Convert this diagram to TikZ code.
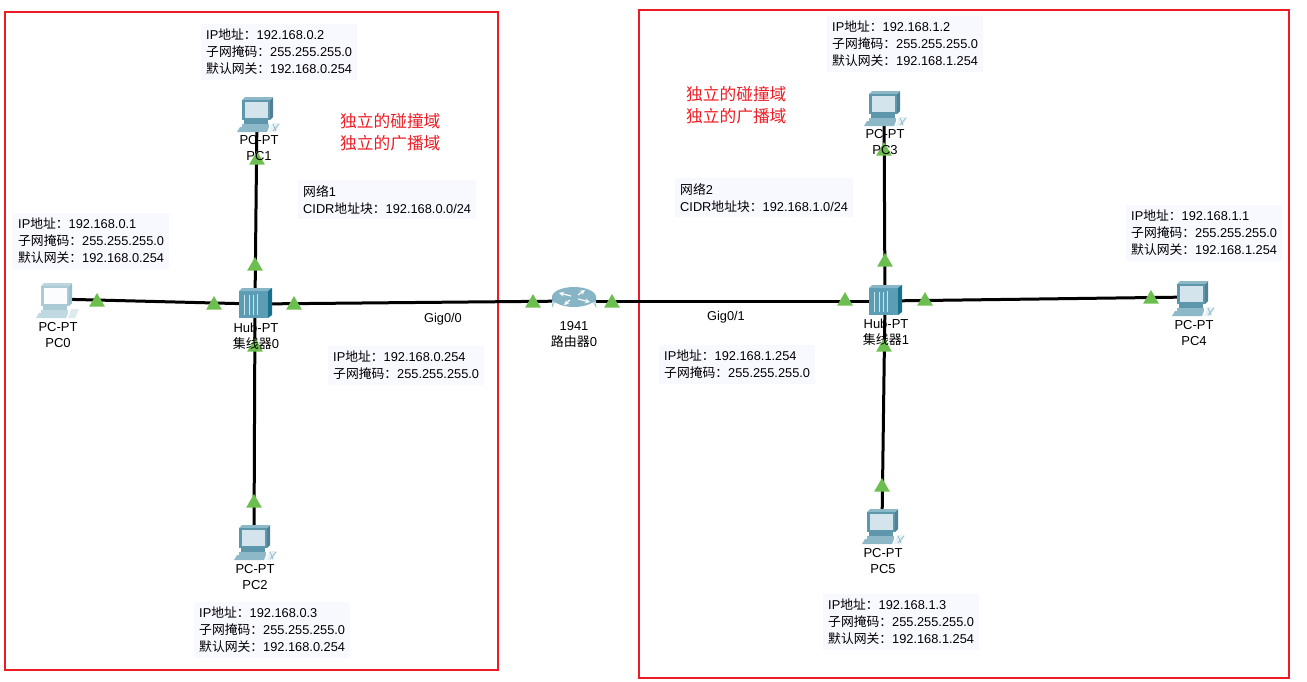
\documentclass[tikz,border=0pt]{standalone}
\usepackage{fontspec}
\usetikzlibrary{shapes.geometric}
\setmainfont{Liberation Sans}
\newfontfamily\cjk{Noto Sans CJK SC}
\newcommand{\zh}[1]{{\cjk #1}}
\definecolor{boxred}{HTML}{ED1C24}
\definecolor{infobg}{HTML}{F8F8FF}
\definecolor{tri}{HTML}{6CBE4F}
\definecolor{pcdark}{HTML}{5E96AB}
\definecolor{pcmid}{HTML}{8DB8C8}
\definecolor{pcscreen}{HTML}{D3E4EC}
\definecolor{hubfront}{HTML}{5B9DB5}
\definecolor{hubside}{HTML}{17708C}
\definecolor{hubtop}{HTML}{86B6C7}
\tikzset{
  x=1pt,y=-1pt,
  link/.style={line width=3pt,black},
  region/.style={draw=boxred,line width=1.5pt},
  info/.style={fill=infobg,align=left,anchor=north west,font=\fontsize{12.8}{17}\selectfont,inner xsep=5pt,inner ysep=5pt,text=black},
  redtxt/.style={align=left,anchor=north west,text=boxred,font=\fontsize{16.7}{22}\selectfont,inner sep=0pt},
  devlabel/.style={align=center,anchor=north,font=\fontsize{13}{16}\selectfont,inner sep=0pt,text=black},
  portlabel/.style={font=\fontsize{12.8}{14}\selectfont,inner sep=0pt,text=black},
  porttri/.style={fill=tri,draw=none,regular polygon,regular polygon sides=3,minimum size=18pt,inner sep=0pt},
  pics/pcicon/.style={code={
    \fill[pcdark!85!black] (13,-16) -- (16,-19) -- (16,1) -- (13,4) -- cycle;
    \fill[pcmid] (-15,-16) -- (13,-16) -- (16,-19) -- (-12,-19) -- cycle;
    \fill[pcdark] (-15,-16) rectangle (13,4);
    \fill[pcscreen] (-12,-14) rectangle (10.5,2);
    \fill[pcdark] (-13,4) rectangle (11,8);
    \fill[pcmid] (-15,8) rectangle (12,11);
    \fill[pcmid] (-17,11) -- (12,11) -- (10,16) -- (-20,16) -- cycle;
    \fill[white!80!pcmid] (15,7) -- (23,7) -- (19,16) -- (12,16) -- cycle;
    \draw[pcmid,line width=.7pt] (16,8) -- (19,15) (22,8) -- (16,15);
  }},
  pics/pclight/.style={code={
    \fill[pcmid!90!white] (13,-16) -- (16,-19) -- (16,1) -- (13,4) -- cycle;
    \fill[pcmid!60!white] (-15,-16) -- (13,-16) -- (16,-19) -- (-12,-19) -- cycle;
    \fill[pcmid!75!white] (-15,-16) rectangle (13,4);
    \fill[white!90!pcscreen] (-12,-14) rectangle (10.5,2);
    \fill[pcmid!75!white] (-13,4) rectangle (11,8);
    \fill[pcmid!55!white] (-15,8) rectangle (12,11);
    \fill[pcmid!55!white] (-17,11) -- (12,11) -- (10,16) -- (-20,16) -- cycle;
    \fill[white!70!pcmid] (15,7) -- (23,7) -- (19,16) -- (12,16) -- cycle;
  }},
  pics/hubicon/.style={code={
    \fill[hubfront] (-16,-13) rectangle (13,14);
    \fill[hubtop] (-16,-13) -- (-13,-16) -- (17,-16) -- (13,-13) -- cycle;
    \fill[hubside] (13,-13) -- (17,-16) -- (17,11) -- (13,14) -- cycle;
    \draw[white!70!hubfront,line width=.8pt] (-11,-9) -- (-11,11) (-6,-9) -- (-6,11) (-2,-9) -- (-2,11) (2,-10) -- (2,11);
  }},
  pics/routericon/.style={code={
    \shade[left color=hubside,right color=hubside,middle color=pcscreen,shading angle=0] (-22,-4) -- (-22,7) arc[start angle=180,end angle=360,x radius=22,y radius=9.5] -- (22,-4) -- cycle;
    \fill[pcmid!90!pcdark] (0,-4) ellipse[x radius=22,y radius=10];
    \begin{scope}[white,line width=1.2pt,->,>=stealth]
      \draw (-3,-5) -- (-15,-8);
      \draw (4,-6) -- (11,-11);
      \draw (-4,-1) -- (-10,4);
      \draw (4,-2) -- (16,1);
    \end{scope}
  }},
}
\begin{document}
\begin{tikzpicture}
\useasboundingbox (0,0) rectangle (1307,681);
% device positions
\coordinate (pc0) at (56,299);
\coordinate (pc1) at (257,113);
\coordinate (pc2) at (254,542);
\coordinate (pc3) at (884,107);
\coordinate (pc4) at (1192,297);
\coordinate (pc5) at (882,525);
\coordinate (hub0) at (255,304);
\coordinate (hub1) at (885,301);
\coordinate (router) at (574,301);
% regions
\draw[region] (5,12) rectangle (498,670);
\draw[region] (639,10) rectangle (1289,678);
% links
\draw[link] (pc0) -- (hub0);
\draw[link] (pc1) -- (hub0);
\draw[link] (pc2) -- (hub0);
\draw[link] (hub0) -- (router);
\draw[link] (router) -- (hub1);
\draw[link] (pc3) -- (hub1);
\draw[link] (pc4) -- (hub1);
\draw[link] (pc5) -- (hub1);
% icons
\pic[yshift=-3pt] at (pc0) {pclight};
\pic[yshift=-3pt] at (pc1) {pcicon};
\pic[yshift=-2pt] at (pc2) {pcicon};
\pic[yshift=-3pt] at (pc3) {pcicon};
\pic[yshift=-3pt] at (pc4) {pcicon};
\pic[yshift=-3pt] at (pc5) {pcicon};
\pic at (hub0) {hubicon};
\pic at (hub1) {hubicon};
\pic at (router) {routericon};
% port triangles
\node[porttri] (t1) at (97,302) {};
\node[porttri] (t2) at (214,305) {};
\node[porttri] (t3) at (294,305) {};
\node[porttri] (t4) at (255,266) {};
\node[porttri] (t5) at (257,160) {};
\node[porttri] (t6) at (255,347) {};
\node[porttri] (t7) at (254,503) {};
\node[porttri] (t8) at (533,303) {};
\node[porttri] (t9) at (612,303) {};
\node[porttri] (t10) at (845,301) {};
\node[porttri] (t11) at (925,301) {};
\node[porttri] (t12) at (885,262) {};
\node[porttri] (t13) at (884,151) {};
\node[porttri] (t14) at (884,347) {};
\node[porttri] (t15) at (882,487) {};
\node[porttri] (t16) at (1151,299) {};
% device labels
\node[devlabel] (l0) at (58,322) {PC-PT\\PC0};
\node[devlabel] (l1) at (259,135.5) {PC-PT\\PC1};
\node[devlabel] (l2) at (255,564) {PC-PT\\PC2};
\node[devlabel] (l3) at (885,129.5) {PC-PT\\PC3};
\node[devlabel] (l4) at (1194,320) {PC-PT\\PC4};
\node[devlabel] (l5) at (883,548) {PC-PT\\PC5};
\node[devlabel] (lh0) at (256,323) {Hub-PT\\\zh{集线器}0};
\node[devlabel] (lh1) at (886,318.5) {Hub-PT\\\zh{集线器}1};
\node[devlabel] (lr) at (574,321) {1941\\\zh{路由器}0};
% port labels
\node[portlabel] (g0) at (443,319.5) {Gig0/0};
\node[portlabel] (g1) at (726,317.5) {Gig0/1};
% info boxes
\node[info] (i1) at (201,24) {IP\zh{地址：}192.168.0.2\\\zh{子网掩码：}255.255.255.0\\\zh{默认网关：}192.168.0.254};
\node[info] (i0) at (13,213) {IP\zh{地址：}192.168.0.1\\\zh{子网掩码：}255.255.255.0\\\zh{默认网关：}192.168.0.254};
\node[info] (i2) at (194,602) {IP\zh{地址：}192.168.0.3\\\zh{子网掩码：}255.255.255.0\\\zh{默认网关：}192.168.0.254};
\node[info] (ir0) at (328,346) {IP\zh{地址：}192.168.0.254\\\zh{子网掩码：}255.255.255.0};
\node[info] (n1) at (298,180) {\zh{网络}1\\CIDR\zh{地址块：}192.168.0.0/24};
\node[info] (i3) at (827,16) {IP\zh{地址：}192.168.1.2\\\zh{子网掩码：}255.255.255.0\\\zh{默认网关：}192.168.1.254};
\node[info] (i4) at (1126,205) {IP\zh{地址：}192.168.1.1\\\zh{子网掩码：}255.255.255.0\\\zh{默认网关：}192.168.1.254};
\node[info] (i5) at (823,594) {IP\zh{地址：}192.168.1.3\\\zh{子网掩码：}255.255.255.0\\\zh{默认网关：}192.168.1.254};
\node[info] (ir1) at (659,345) {IP\zh{地址：}192.168.1.254\\\zh{子网掩码：}255.255.255.0};
\node[info] (n2) at (675,178) {\zh{网络}2\\CIDR\zh{地址块：}192.168.1.0/24};
% red texts
\node[redtxt] (r0) at (340,113) {\zh{独立的碰撞域}\\\zh{独立的广播域}};
\node[redtxt] (r1) at (686,86) {\zh{独立的碰撞域}\\\zh{独立的广播域}};
\end{tikzpicture}
\end{document}
